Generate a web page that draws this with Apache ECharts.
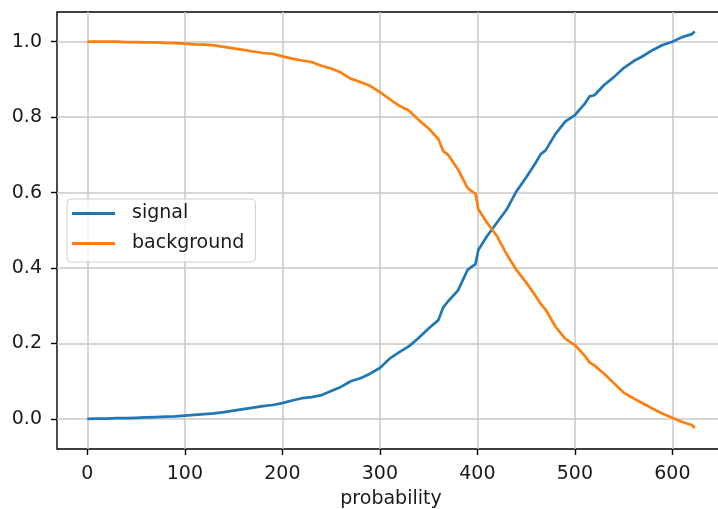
<!DOCTYPE html>
<html>
<head>
<meta charset="utf-8">
<script src="https://cdn.jsdelivr.net/npm/echarts@6/dist/echarts.min.js"></script>
<style>
html, body { margin: 0; padding: 0; background: #fff; overflow: hidden; }
#chart { width: 730px; height: 509px; }
</style>
</head>
<body>
<div id="chart"></div>
<script>
// probability positions
const xValues = [0,10,20,30,40,50,60,70,80,90,100,110,120,130,140,150,160,170,180,190,200,210,220,230,240,250,260,270,280,290,300,310,320,330,340,350,360,365,370,380,390,395,398,401,410,420,430,440,450,460,465,470,480,490,500,510,515,520,530,540,550,560,570,580,590,600,610,620,623];
const signalValues = [0.000,0.001,0.001,0.002,0.002,0.003,0.004,0.005,0.006,0.007,0.009,0.011,0.013,0.015,0.018,0.022,0.026,0.030,0.034,0.037,0.042,0.049,0.055,0.058,0.063,0.074,0.085,0.100,0.108,0.120,0.135,0.160,0.177,0.193,0.215,0.240,0.262,0.296,0.312,0.340,0.395,0.405,0.410,0.448,0.485,0.520,0.555,0.603,0.640,0.680,0.702,0.712,0.755,0.788,0.805,0.835,0.855,0.858,0.885,0.906,0.930,0.948,0.962,0.978,0.991,1.000,1.012,1.020,1.027];
const backgroundValues = [1.000,1.000,1.000,1.000,0.999,0.999,0.998,0.998,0.997,0.996,0.995,0.993,0.992,0.990,0.986,0.982,0.978,0.974,0.970,0.968,0.961,0.955,0.950,0.946,0.936,0.929,0.918,0.902,0.893,0.883,0.866,0.848,0.830,0.817,0.792,0.770,0.742,0.710,0.700,0.662,0.612,0.602,0.598,0.556,0.520,0.485,0.437,0.395,0.362,0.325,0.305,0.290,0.245,0.213,0.196,0.168,0.150,0.142,0.120,0.095,0.070,0.055,0.041,0.027,0.014,0.003,-0.008,-0.016,-0.024];
const xTicks = [0,100,200,300,400,500,600];
const yTicks = [0.0,0.2,0.4,0.6,0.8,1.0];
const seriesNames = ['signal','background'];
const xAxisName = 'probability';

const signalData = xValues.map((x, i) => [x, signalValues[i]]);
const backgroundData = xValues.map((x, i) => [x, backgroundValues[i]]);

const chart = echarts.init(document.getElementById('chart'), null, {renderer: 'canvas'});
const font = 'DejaVu Sans';
const fs = 19;
chart.setOption({
  animation: false,
  backgroundColor: '#fff',
  grid: {
    left: 57, top: 12, right: 5, bottom: 60,
    containLabel: false, outerBoundsMode: 'none',
    show: true, borderColor: '#000', borderWidth: 1.4, backgroundColor: 'transparent'
  },
  xAxis: {
    type: 'value',
    min: -31.15, max: 654,
    name: xAxisName, nameLocation: 'middle', nameGap: 41,
    nameTextStyle: {fontFamily: font, fontSize: fs, color: '#1a1a1a'},
    axisLine: {show: false, onZero: false},
    axisTick: {show: true, inside: false, length: 6, lineStyle: {color: '#000', width: 1.4}, customValues: xTicks},
    axisLabel: {fontFamily: font, fontSize: fs, color: '#1a1a1a', margin: 16, customValues: xTicks, formatter: v => String(v)},
    splitLine: {show: true, lineStyle: {color: '#c8c8c8', width: 1.5}}
  },
  yAxis: {
    type: 'value',
    min: -0.0796, max: 1.0786,
    axisLine: {show: false, onZero: false},
    axisTick: {show: true, inside: false, length: 6, lineStyle: {color: '#000', width: 1.4}, customValues: yTicks},
    axisLabel: {fontFamily: font, fontSize: fs, color: '#1a1a1a', margin: 15, customValues: yTicks, formatter: v => v.toFixed(1)},
    splitLine: {show: true, lineStyle: {color: '#c8c8c8', width: 1.5}}
  },
  legend: {
    orient: 'vertical', left: 67, top: 199,
    data: seriesNames.map(n => ({name: n, icon: 'rect'})),
    itemWidth: 43, itemHeight: 3, itemGap: 11,
    padding: [5, 11, 9, 5],
    backgroundColor: 'rgba(255,255,255,0.8)',
    borderColor: '#d0d0d0', borderWidth: 1, borderRadius: 4,
    textStyle: {fontFamily: font, fontSize: fs, color: '#1a1a1a', lineHeight: 19, padding: [0, 0, 0, 12]}
  },
  series: [
    {name: seriesNames[0], type: 'line', data: signalData, showSymbol: false, symbol: 'none',
     color: '#1f77b4', lineStyle: {width: 2.7, color: '#1f77b4'}, z: 3},
    {name: seriesNames[1], type: 'line', data: backgroundData, showSymbol: false, symbol: 'none',
     color: '#ff7f0e', lineStyle: {width: 2.7, color: '#ff7f0e'}, z: 4}
  ]
});
</script>
</body>
</html>
